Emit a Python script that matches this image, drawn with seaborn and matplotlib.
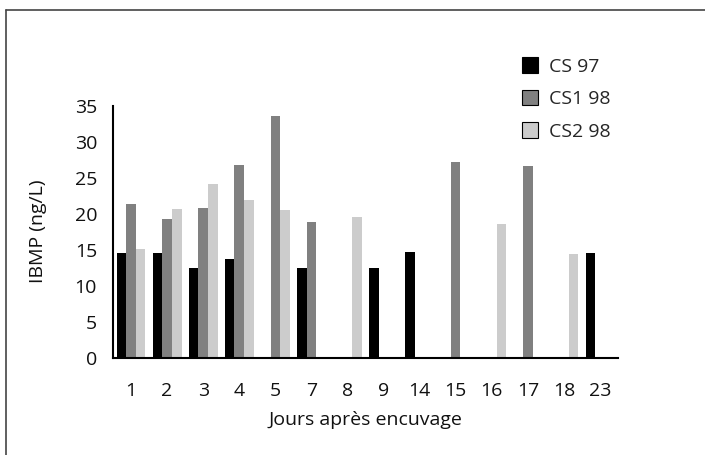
import numpy as np
import pandas as pd
import matplotlib
matplotlib.use("Agg")
import matplotlib.pyplot as plt
import seaborn as sns
from matplotlib.patches import Patch
from matplotlib.lines import Line2D

# ---- data ----
days = ["1", "2", "3", "4", "5", "7", "8", "9", "14", "15", "16", "17", "18", "23"]
cs97 = [14.6, 14.6, 12.5, 13.7, None, 12.5, None, 12.5, 14.7, None, None, None, None, 14.5]
cs1_98 = [21.3, 19.3, 20.8, 26.8, 33.6, 18.8, None, None, None, 27.2, None, 26.6, None, None]
cs2_98 = [15.1, 20.6, 24.1, 21.9, 20.5, None, 19.5, None, None, None, 18.6, None, 14.4, None]
series = ["CS 97", "CS1 98", "CS2 98"]
colors = ["#000000", "#808080", "#cccccc"]
yticks = [0, 5, 10, 15, 20, 25, 30, 35]

rows = []
for name, vals in zip(series, [cs97, cs1_98, cs2_98]):
    for d, v in zip(days, vals):
        if v is not None:
            rows.append({"Jour": d, "IBMP": v, "Serie": name})
df = pd.DataFrame(rows)

sns.set_style("white")
plt.rcParams["font.family"] = ["Open Sans", "DejaVu Sans"]

fig = plt.figure(figsize=(7.05, 4.55), dpi=100)
ax = fig.add_axes([113 / 705, 1 - 357.7 / 455, (618 - 113) / 705, (357.7 - 105.7) / 455])

sns.barplot(data=df, x="Jour", y="IBMP", hue="Serie", order=days, hue_order=series,
            palette=colors, width=0.8, saturation=1, errorbar=None, linewidth=0,
            ax=ax, legend=False)

FS = 14
ax.set_xlim(-0.5, len(days) - 0.5)
ax.set_ylim(0, 35)
ax.set_yticks(yticks)
ax.set_yticklabels([str(t) for t in yticks], fontsize=FS)
ax.set_xticks(range(len(days)))
ax.set_xticklabels(days, fontsize=FS)
ax.set_xticks(np.arange(-0.5, len(days), 1), minor=True)
ax.tick_params(axis="x", which="major", length=0, pad=17.5, colors="black")
ax.tick_params(axis="x", which="minor", length=5.5, width=1.2, direction="out", color="black")
ax.tick_params(axis="y", which="major", length=4.5, width=1.2, direction="out", pad=7, color="black")
ax.tick_params(axis="both", labelcolor="#111111")

for s in ["top", "right"]:
    ax.spines[s].set_visible(False)
for s in ["left", "bottom"]:
    ax.spines[s].set_color("black")
    ax.spines[s].set_linewidth(1.5)

ax.set_xlabel("Jours après encuvage", fontsize=FS, labelpad=8, color="#111111")
ax.set_ylabel("IBMP (ng/L)", fontsize=FS, labelpad=20, color="#111111")

handles = [Patch(facecolor=c, edgecolor="black", linewidth=0.8) for c in colors]
fig.legend(handles, series, loc="upper left", bbox_to_anchor=(0.726, 0.896),
           frameon=False, fontsize=FS, handlelength=0.85, handleheight=0.85,
           handletextpad=0.55, labelspacing=0.72, borderpad=0)

# outer frame (top and left lines)
fig.add_artist(Line2D([6 / 705, 1.0], [1 - 10 / 455, 1 - 10 / 455], color="#444444", lw=1.2,
                      transform=fig.transFigure))
fig.add_artist(Line2D([6 / 705, 6 / 705], [0.0, 1 - 10 / 455], color="#444444", lw=1.2,
                      transform=fig.transFigure))

fig.savefig("out.png", dpi=100)
